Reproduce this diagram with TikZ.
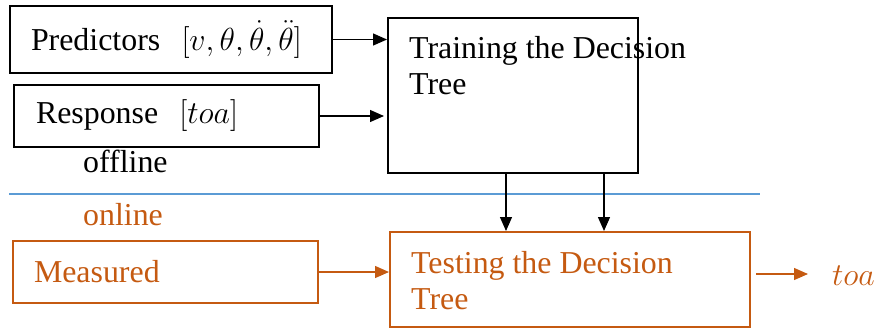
\documentclass[tikz,border=0pt]{standalone}
\usepackage{fix-cm}
\usepackage{fontspec}
\setmainfont{Liberation Serif}
\usetikzlibrary{positioning, arrows.meta}
\definecolor{rust}{HTML}{C55A11}
\definecolor{ink}{HTML}{000000}
\definecolor{sky}{HTML}{5B9BD5}

\begin{document}
\begin{tikzpicture}[x=1bp, y=-1bp,
    font=\fontsize{32}{36}\selectfont,
    box/.style={draw, line width=2bp, rectangle, anchor=north west,
                inner xsep=21bp, align=left},
    flow/.style={-{Triangle[length=14bp, width=12bp]}, line width=1.3bp}]
  \useasboundingbox (0,0) rectangle (881,330);
  % ---- offline part: training ----
  \node[box, ink, minimum width=322bp, minimum height=67bp, text width=280bp]
        (pred) at (9,5) {Predictors\ \ $[v,\theta,\dot{\theta},\ddot{\theta}]$};
  \node[box, ink, minimum width=305bp, minimum height=62bp, text width=261bp]
        (resp) at (13,84) {Response\ \ $[toa]$};
  \node[draw, line width=2bp, anchor=north west, minimum width=250bp,
        minimum height=155bp] (train) at (387,17) {};
  \node[anchor=north west, inner sep=0pt, align=left] (traintxt) at (409,36)
        {Training the Decision\\Tree};
  \node[anchor=base west, inner sep=0pt] (offl) at (83,172) {offline};
  \draw[flow] (pred.east) -- (pred.east -| train.west);
  \draw[flow] (resp.east) -- ([xshift=-3bp]resp.east -| train.west);
  % ---- split line ----
  \draw[sky, line width=1.2bp] (9,194) -- (760,194);
  % ---- online part: testing ----
  \node[anchor=base west, inner sep=0pt, text=rust] (onl) at (83,225) {online};
  \node[box, rust, minimum width=305bp, minimum height=62bp, text width=263bp]
        (meas) at (12,240) {Measured};
  \node[draw=rust, line width=2bp, anchor=north west, minimum width=360bp,
        minimum height=95bp] (test) at (389,231) {};
  \node[anchor=north west, inner sep=0pt, align=left, text=rust] (testtxt)
        at (411,251) {Testing the Decision\\Tree};
  \node[anchor=base west, inner sep=0pt, text=rust] (toa) at (832,285) {$toa$};
  \coordinate (tip) at (808,274);
  \draw[flow] ([xshift=-7bp]train.south) -- ([xshift=-7bp]train.south |- test.north);
  \draw[flow] ([xshift=91bp]train.south) -- ([xshift=91bp]train.south |- test.north);
  \draw[flow, rust] (meas.east) -- (meas.east -| test.west);
  \draw[flow, rust] ([xshift=5bp]test.east |- tip) -- (tip);
\end{tikzpicture}
\end{document}
